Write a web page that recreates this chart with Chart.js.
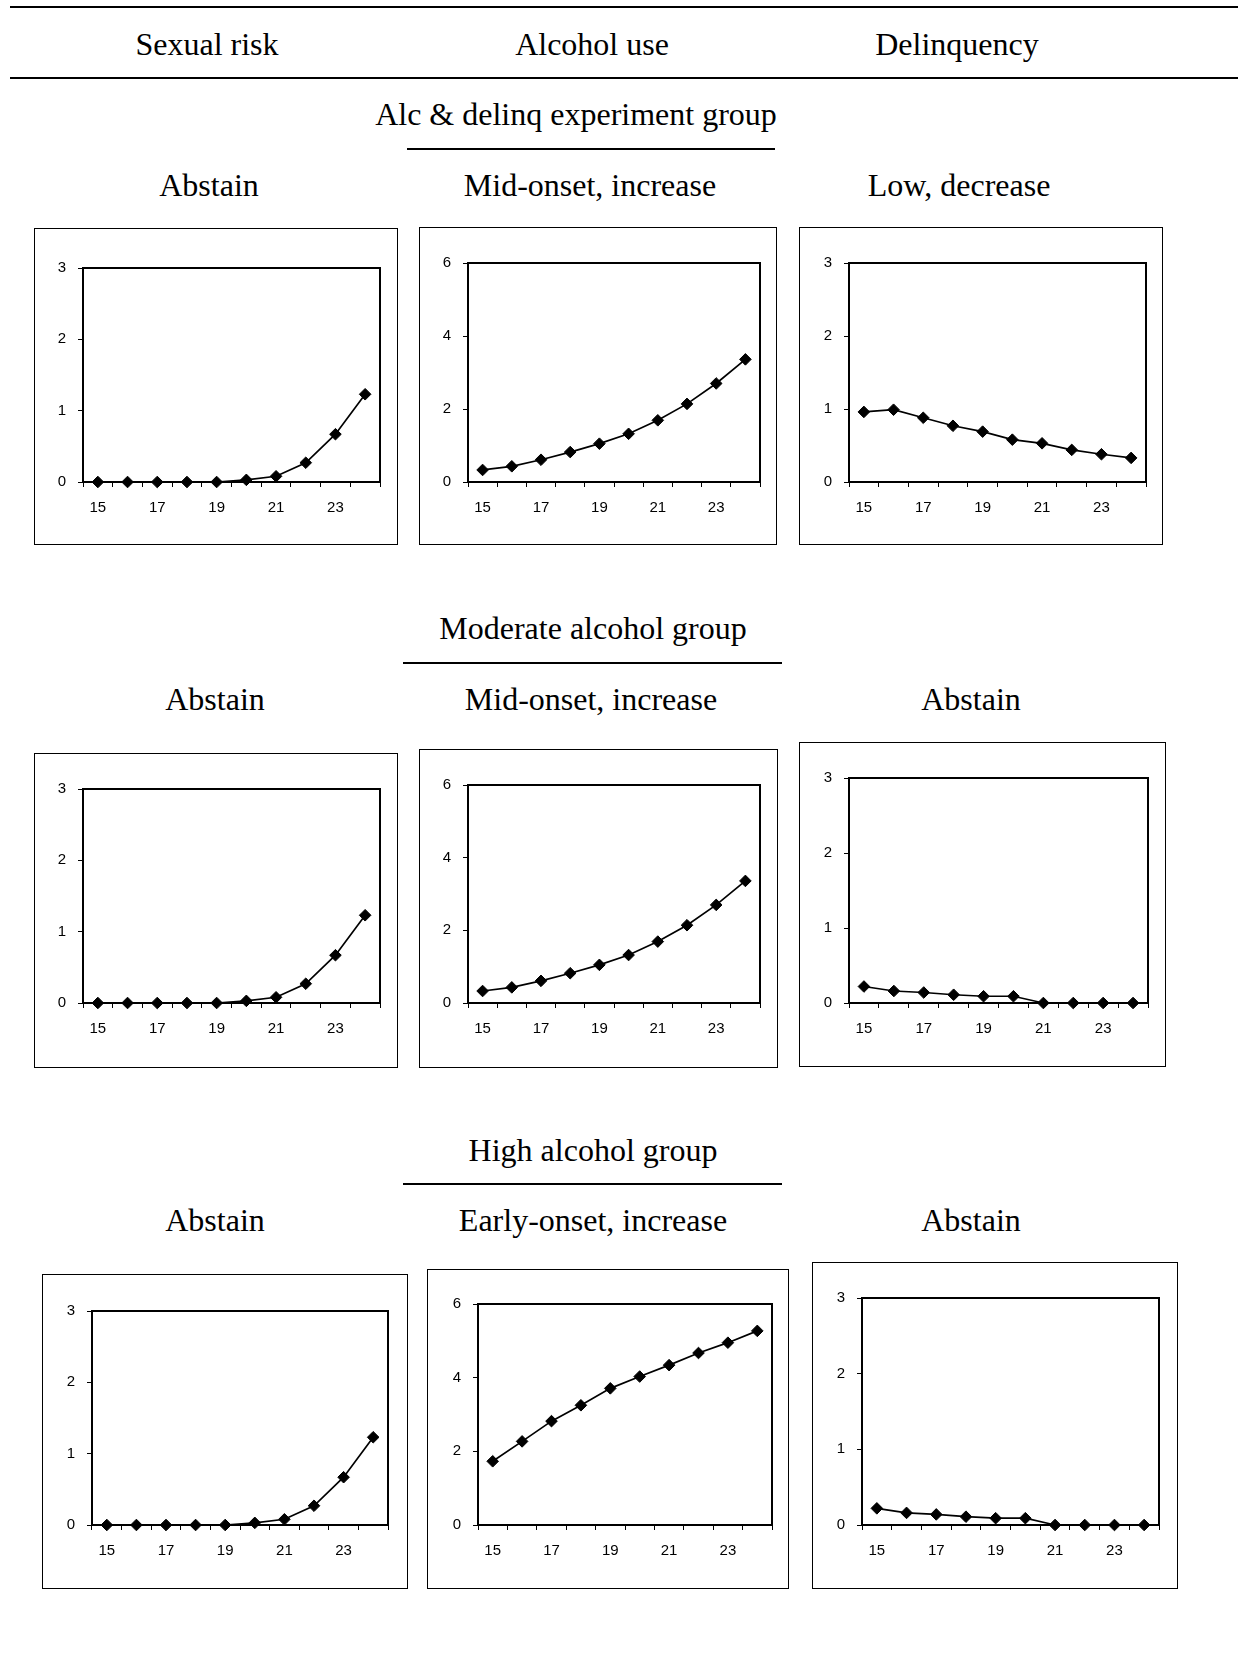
<!DOCTYPE html>
<html>
<head>
<meta charset="utf-8">
<script src="https://cdn.jsdelivr.net/npm/chart.js@4.4.0/dist/chart.umd.min.js"></script>
<style>
body { margin: 0; background: #fff; width: 1238px; height: 1663px; position: relative; overflow: hidden;
       font-family: "Liberation Serif", "Times New Roman", serif; color: #000; }
.rule { position: absolute; height: 2px; background: #000; }
.t { position: absolute; font-size: 32px; line-height: 32px; white-space: nowrap; transform: translateX(-50%); }
.box { position: absolute; border: 1px solid #000; box-sizing: border-box; }
.box canvas { position: absolute; left: 0; top: 0; }
</style>
</head>
<body>
<script>
// ages on the x axis
const ages = ['15', '16', '17', '18', '19', '20', '21', '22', '23', '24'];

// trajectory values
const sexualAbstain   = [0, 0, 0, 0, 0, 0.03, 0.08, 0.27, 0.67, 1.23];
const alcoholMidOnset = [0.33, 0.43, 0.61, 0.82, 1.05, 1.32, 1.69, 2.14, 2.70, 3.36];
const alcoholEarly    = [1.73, 2.27, 2.82, 3.25, 3.71, 4.03, 4.34, 4.67, 4.95, 5.27];
const delinqLowDecr   = [0.96, 0.99, 0.88, 0.77, 0.69, 0.58, 0.53, 0.44, 0.38, 0.33];
const delinqAbstain   = [0.22, 0.16, 0.14, 0.11, 0.09, 0.09, 0, 0, 0, 0];

const headers = ['Sexual risk', 'Alcohol use', 'Delinquency'];
const groupTitles = ['Alc & delinq experiment group', 'Moderate alcohol group', 'High alcohol group'];
const classLabels = [
  ['Abstain', 'Mid-onset, increase', 'Low, decrease'],
  ['Abstain', 'Mid-onset, increase', 'Abstain'],
  ['Abstain', 'Early-onset, increase', 'Abstain']
];

function addRule(x1, x2, y) {
  const d = document.createElement('div');
  d.className = 'rule';
  d.style.left = x1 + 'px';
  d.style.width = (x2 - x1) + 'px';
  d.style.top = (y - 1) + 'px';
  document.body.appendChild(d);
}

function addText(txt, cx, baseline) {
  const d = document.createElement('div');
  d.className = 't';
  d.textContent = txt;
  d.style.left = cx + 'px';
  d.style.top = (baseline - 26.8) + 'px';
  document.body.appendChild(d);
}

// table rules and headings
addRule(10, 1238, 7);
addRule(10, 1238, 78);
[207, 592, 957].forEach((x, i) => addText(headers[i], x, 55));

const titlePos = [[576, 125, 407, 775, 149], [593, 639, 403, 782, 663], [593, 1161, 403, 782, 1184]];
titlePos.forEach((p, i) => {
  addText(groupTitles[i], p[0], p[1]);
  addRule(p[2], p[3], p[4]);
});

const labelX = [[209, 590, 959], [215, 591, 971], [215, 593, 971]];
const labelBase = [195.5, 709.5, 1230.5];
classLabels.forEach((row, r) => row.forEach((txt, c) => addText(txt, labelX[r][c], labelBase[r])));

// plot frame drawn around the chart area
const frame = {
  id: 'frame',
  beforeDatasetsDraw(chart) {
    const { ctx, chartArea: a } = chart;
    ctx.save();
    ctx.strokeStyle = '#000';
    ctx.lineWidth = 2;
    ctx.strokeRect(a.left, a.top, a.right - a.left, a.bottom - a.top);
    ctx.restore();
  }
};

// box = outer border [l, t, r, b], plot = chart area [l, t, r, b]
const panels = [
  { values: sexualAbstain,   max: 3, step: 1, box: [34, 228, 398, 545],   plot: [83, 268, 380, 482] },
  { values: alcoholMidOnset, max: 6, step: 2, box: [419, 227, 777, 545],  plot: [468, 263, 760, 482] },
  { values: delinqLowDecr,   max: 3, step: 1, box: [799, 227, 1163, 545], plot: [849, 263, 1146, 482] },
  { values: sexualAbstain,   max: 3, step: 1, box: [34, 753, 398, 1068],  plot: [83, 789, 380, 1003] },
  { values: alcoholMidOnset, max: 6, step: 2, box: [419, 749, 778, 1068], plot: [468, 785, 760, 1003] },
  { values: delinqAbstain,   max: 3, step: 1, box: [799, 742, 1166, 1067], plot: [849, 778, 1148, 1003] },
  { values: sexualAbstain,   max: 3, step: 1, box: [42, 1274, 408, 1589], plot: [92, 1311, 388, 1525] },
  { values: alcoholEarly,    max: 6, step: 2, box: [427, 1269, 789, 1589], plot: [478, 1304, 772, 1525] },
  { values: delinqAbstain,   max: 3, step: 1, box: [812, 1262, 1178, 1589], plot: [862, 1298, 1159, 1525] }
];

const tickFont = { family: '"Liberation Sans", Arial, sans-serif', size: 15 };

panels.forEach(p => {
  const [bl, bt, br, bb] = p.box;
  const [pl, pt, pr, pb] = p.plot;
  const div = document.createElement('div');
  div.className = 'box';
  div.style.left = bl + 'px';
  div.style.top = bt + 'px';
  div.style.width = (br - bl) + 'px';
  div.style.height = (bb - bt) + 'px';
  const canvas = document.createElement('canvas');
  const w = br - bl - 2, h = bb - bt - 2;
  canvas.width = w;
  canvas.height = h;
  canvas.style.width = w + 'px';
  canvas.style.height = h + 'px';
  div.appendChild(canvas);
  document.body.appendChild(div);

  const ox = bl + 1, oy = bt + 1;
  const yWidth = pl - ox;
  const xHeight = (oy + h) - pb;

  new Chart(canvas, {
    type: 'line',
    data: {
      labels: ages,
      datasets: [{
        data: p.values,
        borderColor: '#000',
        borderWidth: 1.7,
        pointStyle: 'rectRot',
        pointRadius: 5.8,
        pointBackgroundColor: '#000',
        pointBorderColor: '#000',
        pointBorderWidth: 1,
        tension: 0,
        clip: false
      }]
    },
    options: {
      responsive: false,
      animation: false,
      layout: { padding: { left: 0, bottom: 0, top: pt - oy, right: (ox + w) - pr } },
      plugins: { legend: { display: false }, tooltip: { enabled: false } },
      scales: {
        x: {
          type: 'category',
          offset: true,
          border: { display: false },
          grid: { offset: true, drawOnChartArea: false, drawTicks: true, tickLength: 5, color: '#000', lineWidth: 1 },
          ticks: {
            color: '#000', font: tickFont, padding: 12, autoSkip: false, maxRotation: 0,
            callback: function (v, i) { return i % 2 === 0 ? this.getLabelForValue(v) : ''; }
          },
          afterFit: s => { s.height = xHeight; }
        },
        y: {
          min: 0, max: p.max,
          border: { display: false },
          grid: { drawOnChartArea: false, drawTicks: true, tickLength: 5, color: '#000', lineWidth: 1 },
          ticks: { color: '#000', font: tickFont, padding: 12, stepSize: p.step },
          afterFit: s => { s.width = yWidth; }
        }
      }
    },
    plugins: [frame]
  });
});
</script>
</body>
</html>
